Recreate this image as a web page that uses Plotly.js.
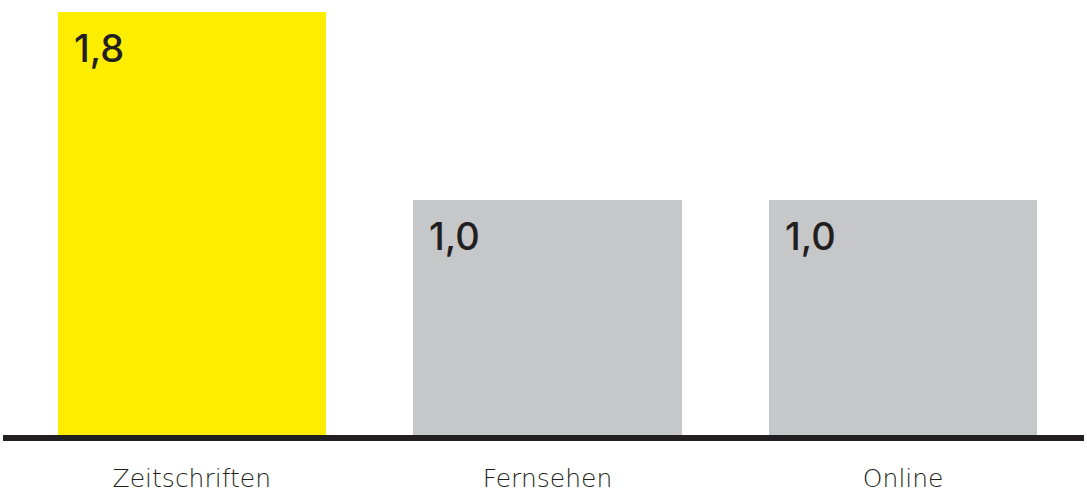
<!DOCTYPE html>
<html>
<head>
<meta charset="utf-8">
<script src="https://cdn.plot.ly/plotly-3.0.1.min.js"></script>
<style>html,body{margin:0;padding:0;background:#fff}#chart{width:1087px;height:493px}</style>
</head>
<body>
<div id="chart"></div>
<script>
const categories = ["Zeitschriften", "Fernsehen", "Online"];
const values = [1.8, 1.0, 1.0];
const valueLabels = ["1,8", "1,0", "1,0"];
const barColors = ["#ffed00", "#c6c7c9", "#c6c7c9"];

const barWidth = 0.754;
const idx = categories.map((c, i) => i);

const trace = {
  type: "bar",
  x: idx,
  y: values,
  width: barWidth,
  marker: {color: barColors, line: {width: 0}},
  hoverinfo: "skip"
};

const annotations = values.map((v, i) => ({
  x: i - barWidth / 2,
  y: v,
  xref: "x",
  yref: "y",
  xanchor: "left",
  yanchor: "top",
  xshift: 14,
  yshift: -11,
  text: valueLabels[i],
  showarrow: false,
  font: {family: "Inter, 'Open Sans', sans-serif", size: 38, weight: 500, color: "#231f20"}
}));

const layout = {
  width: 1087,
  height: 493,
  margin: {l: 14, r: 6, t: 0, b: 58},
  paper_bgcolor: "#ffffff",
  plot_bgcolor: "#ffffff",
  showlegend: false,
  bargap: 0,
  xaxis: {
    range: [-0.5, 2.5],
    tickmode: "array",
    tickvals: idx,
    ticktext: categories,
    showgrid: false,
    zeroline: false,
    showline: false,
    ticks: "",
    ticklabelstandoff: 26,
    tickfont: {family: "'DejaVu Sans', sans-serif", size: 25, weight: 300, color: "#231f20"},
    fixedrange: true
  },
  yaxis: {
    range: [0, 1.851],
    visible: false,
    fixedrange: true
  },
  shapes: [{
    type: "line",
    xref: "paper",
    yref: "paper",
    x0: -0.0103,
    x1: 1.0028,
    y0: -3 / 435,
    y1: -3 / 435,
    line: {color: "#231f20", width: 6}
  }],
  annotations: annotations
};

Plotly.newPlot("chart", [trace], layout, {displayModeBar: false, staticPlot: true});
</script>
</body>
</html>
